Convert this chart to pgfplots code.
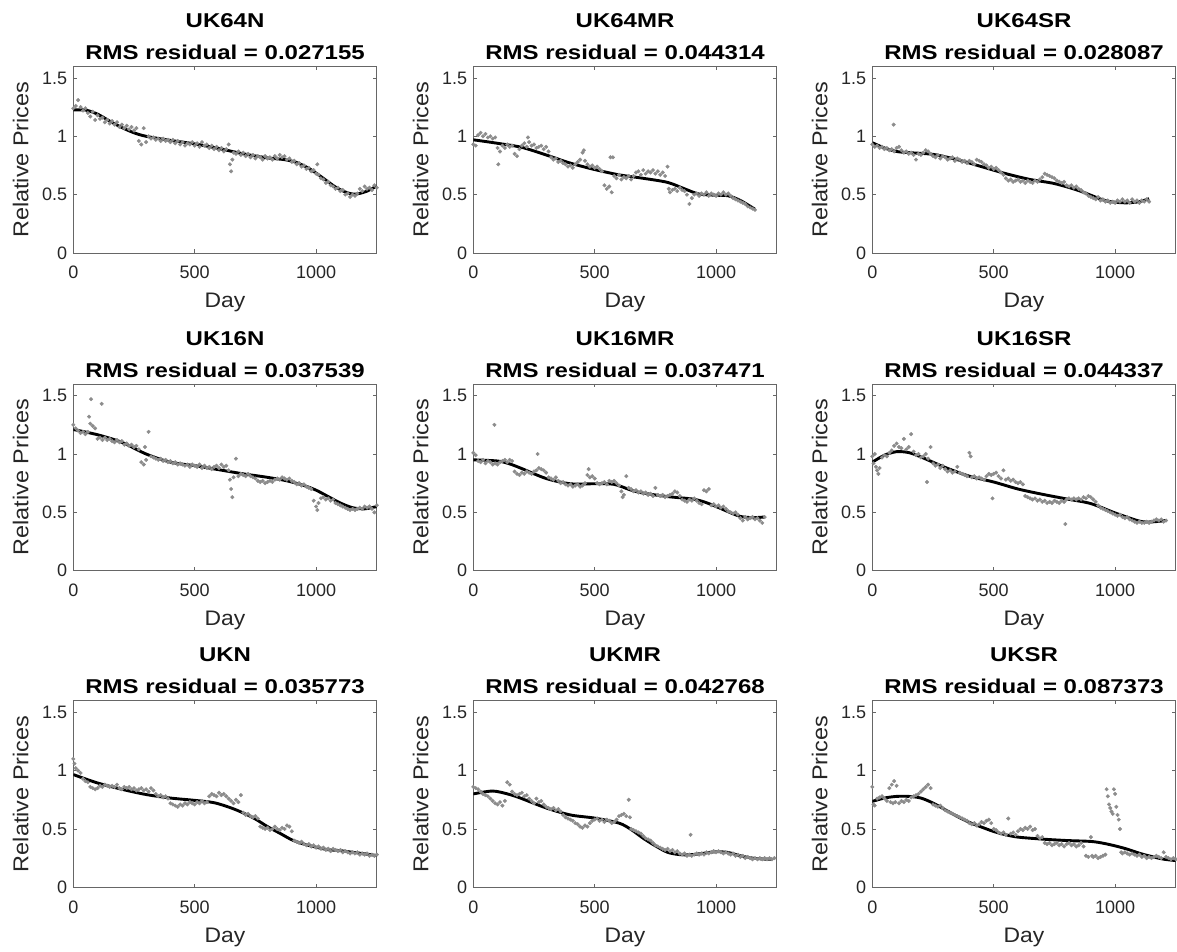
\documentclass[border=0pt]{standalone}
\usepackage{fontspec}
\setmainfont{Liberation Sans}
\newfontfamily\labelfont{Liberation Sans}[FakeStretch=1.09]
\newfontfamily\titlefont{Liberation Sans}[FakeStretch=1.2]
\usepackage{pgfplots}
\pgfplotsset{compat=1.18}

\definecolor{axgray}{gray}{0.40}
\definecolor{txtgray}{gray}{0.15}
\definecolor{ptgray}{gray}{0.55}

\pgfplotsset{
  panel/.style={
    scale only axis, width=303.5pt, height=186.7pt, anchor=south west,
    xmin=0, xmax=1250, ymin=0, ymax=1.6,
    xtick={0,500,1000}, ytick={0,0.5,1,1.5},
    tick align=inside, tick pos=both, major tick length=3.5pt,
    axis line style={draw=axgray, line width=0.7pt},
    every tick/.style={draw=axgray, line width=0.7pt},
    /pgf/number format/assume math mode=true,
    /pgf/number format/1000 sep={},
    tick label style={font=\fontsize{18}{20}\selectfont, text=txtgray},
    xticklabel style={anchor=base, yshift=-26pt},
    yticklabel style={anchor=east, inner sep=0pt, xshift=-6pt},
    xlabel=Day, ylabel=Relative Prices,
    every axis x label/.style={at={(axis description cs:0.5,-0.2946)}, anchor=base,
      font=\labelfont\fontsize{21}{24}\selectfont, text=txtgray},
    every axis y label/.style={at={(axis description cs:-0.148,0.5)}, rotate=90, anchor=base,
      font=\labelfont\fontsize{21.5}{24}\selectfont, text=txtgray},
    every axis title/.style={at={(axis description cs:0.5,1)}, anchor=south, inner sep=0pt,
      yshift=6.5pt, align=center, font=\titlefont\bfseries\fontsize{20}{32}\selectfont},
  },
  pts/.style={only marks, mark=*, mark size=1.8pt, color=ptgray, mark options={draw=none, fill=ptgray}},
  fit/.style={no marks, smooth, black, line width=2.9pt},
}

\begin{document}
\begin{tikzpicture}
\path[use as bounding box] (0,0) rectangle (1177pt,952pt);

% ---------------- row 1 ----------------
\begin{axis}[panel, at={(73.3pt,699pt)}, title={UK64N\\RMS residual = 0.027155}]
\addplot[pts] coordinates {(0,1.24)(10,1.26)(20,1.31)(30,1.25)(40,1.22)(50,1.24)(60,1.20)(70,1.17)(80,1.21)(90,1.14)(100,1.18)(110,1.15)(120,1.16)(130,1.12)(140,1.14)(150,1.11)(160,1.13)(170,1.10)(180,1.12)(190,1.08)(200,1.10)(210,1.07)(220,1.09)(230,1.06)(240,1.08)(250,1.05)(260,1.07)(270,0.96)(280,0.93)(290,1.07)(300,0.95)(310,1.00)(320,0.98)(330,0.99)(340,0.97)(350,0.98)(360,0.96)(370,0.98)(380,0.96)(390,0.97)(400,0.95)(410,0.97)(420,0.94)(430,0.96)(440,0.93)(450,0.95)(460,0.92)(470,0.94)(480,0.93)(490,0.95)(500,0.92)(510,0.94)(520,0.91)(530,0.95)(540,0.92)(550,0.93)(560,0.90)(570,0.92)(580,0.89)(590,0.91)(600,0.88)(610,0.90)(620,0.87)(630,0.89)(640,0.93)(645,0.76)(650,0.70)(655,0.80)(660,0.86)(670,0.85)(680,0.87)(690,0.84)(700,0.86)(710,0.83)(720,0.85)(730,0.82)(740,0.84)(750,0.81)(760,0.83)(770,0.82)(780,0.80)(790,0.83)(800,0.81)(810,0.82)(820,0.80)(830,0.83)(840,0.81)(850,0.84)(860,0.82)(870,0.83)(880,0.80)(890,0.81)(900,0.78)(910,0.79)(920,0.76)(930,0.77)(940,0.74)(950,0.75)(960,0.72)(970,0.73)(980,0.70)(990,0.71)(1000,0.68)(1005,0.76)(1010,0.67)(1020,0.64)(1030,0.63)(1040,0.60)(1050,0.61)(1060,0.58)(1070,0.57)(1080,0.55)(1090,0.56)(1100,0.53)(1110,0.54)(1120,0.50)(1130,0.51)(1140,0.48)(1150,0.50)(1160,0.49)(1170,0.51)(1180,0.55)(1190,0.53)(1200,0.57)(1210,0.55)(1220,0.56)(1230,0.54)(1240,0.58)(1250,0.56)};
\addplot[fit] coordinates {(0,1.225)(50,1.225)(100,1.19)(150,1.13)(200,1.075)(250,1.03)(300,1.0)(400,0.965)(500,0.935)(600,0.895)(700,0.85)(800,0.815)(870,0.80)(920,0.775)(970,0.725)(1020,0.655)(1080,0.565)(1130,0.515)(1165,0.505)(1210,0.53)(1250,0.575)};
\end{axis}

\begin{axis}[panel, at={(473.3pt,699pt)}, title={UK64MR\\RMS residual = 0.044314}]
\addplot[pts] coordinates {(0,0.93)(10,0.92)(20,1.01)(30,1.03)(40,1.00)(50,1.02)(60,0.99)(70,1.00)(80,0.98)(90,0.99)(100,0.90)(103,0.76)(110,0.87)(120,0.92)(130,0.90)(140,0.93)(150,0.91)(160,0.92)(170,0.85)(180,0.83)(190,0.89)(200,0.92)(210,0.94)(220,0.91)(225,0.99)(230,0.95)(240,0.92)(250,0.93)(260,0.90)(270,0.91)(280,0.92)(290,0.89)(300,0.91)(310,0.87)(320,0.82)(330,0.80)(340,0.81)(350,0.78)(360,0.79)(370,0.77)(380,0.76)(390,0.74)(400,0.75)(410,0.73)(420,0.76)(430,0.78)(440,0.80)(450,0.86)(455,0.88)(460,0.79)(470,0.76)(480,0.74)(490,0.75)(500,0.73)(510,0.74)(520,0.72)(530,0.70)(540,0.58)(550,0.55)(560,0.57)(565,0.82)(570,0.52)(575,0.82)(580,0.66)(590,0.64)(600,0.67)(610,0.63)(620,0.65)(630,0.64)(640,0.66)(650,0.63)(660,0.66)(670,0.69)(680,0.70)(690,0.67)(700,0.71)(710,0.68)(720,0.70)(730,0.69)(740,0.71)(750,0.68)(760,0.70)(770,0.67)(780,0.69)(790,0.66)(800,0.74)(805,0.55)(810,0.52)(820,0.54)(830,0.55)(840,0.53)(850,0.56)(860,0.54)(870,0.53)(880,0.50)(890,0.42)(900,0.47)(910,0.50)(920,0.51)(930,0.49)(940,0.51)(950,0.50)(960,0.52)(970,0.49)(980,0.51)(990,0.50)(1000,0.49)(1010,0.51)(1020,0.50)(1030,0.52)(1040,0.50)(1050,0.51)(1060,0.49)(1070,0.47)(1080,0.46)(1090,0.45)(1100,0.44)(1110,0.43)(1120,0.42)(1130,0.40)(1140,0.39)(1150,0.38)(1160,0.37)};
\addplot[fit] coordinates {(0,0.97)(100,0.94)(200,0.905)(300,0.84)(400,0.77)(500,0.715)(600,0.67)(700,0.64)(800,0.605)(870,0.55)(930,0.505)(1000,0.495)(1050,0.49)(1100,0.45)(1160,0.375)};
\end{axis}

\begin{axis}[panel, at={(872.3pt,699pt)}, title={UK64SR\\RMS residual = 0.028087}]
\addplot[pts] coordinates {(0,0.93)(10,0.91)(20,0.92)(30,0.90)(40,0.91)(50,0.89)(60,0.90)(70,0.88)(80,0.89)(88,1.10)(90,0.87)(100,0.90)(110,0.91)(120,0.88)(130,0.86)(140,0.87)(150,0.85)(160,0.86)(170,0.84)(180,0.80)(190,0.85)(200,0.84)(210,0.86)(220,0.88)(230,0.87)(240,0.85)(250,0.83)(260,0.82)(270,0.84)(280,0.81)(290,0.83)(300,0.82)(310,0.80)(320,0.81)(330,0.82)(340,0.79)(350,0.81)(360,0.80)(370,0.78)(380,0.79)(390,0.77)(400,0.79)(410,0.78)(420,0.76)(430,0.80)(440,0.79)(450,0.78)(460,0.76)(470,0.75)(480,0.73)(490,0.74)(500,0.72)(510,0.73)(520,0.71)(530,0.69)(540,0.67)(550,0.64)(560,0.62)(570,0.63)(580,0.61)(590,0.62)(600,0.63)(610,0.61)(620,0.62)(630,0.60)(640,0.62)(650,0.61)(660,0.60)(670,0.62)(680,0.61)(690,0.63)(700,0.65)(710,0.68)(720,0.67)(730,0.66)(740,0.65)(750,0.64)(760,0.62)(770,0.61)(780,0.60)(790,0.61)(800,0.58)(810,0.57)(820,0.58)(830,0.56)(840,0.57)(850,0.55)(860,0.54)(870,0.52)(880,0.51)(890,0.49)(900,0.48)(910,0.47)(920,0.46)(930,0.48)(940,0.45)(950,0.46)(960,0.44)(970,0.45)(980,0.43)(990,0.44)(1000,0.43)(1010,0.45)(1020,0.44)(1030,0.46)(1040,0.44)(1050,0.45)(1060,0.43)(1070,0.46)(1080,0.44)(1090,0.45)(1100,0.43)(1110,0.45)(1120,0.44)(1130,0.46)(1140,0.44)};
\addplot[fit] coordinates {(0,0.945)(50,0.90)(100,0.87)(150,0.86)(250,0.845)(350,0.80)(450,0.74)(550,0.68)(650,0.63)(750,0.595)(850,0.535)(950,0.455)(1000,0.435)(1050,0.43)(1100,0.44)(1140,0.465)};
\end{axis}

% ---------------- row 2 ----------------
\begin{axis}[panel, at={(73.3pt,381.3pt)}, title={UK16N\\RMS residual = 0.037539}]
\addplot[pts] coordinates {(0,1.25)(10,1.22)(20,1.20)(30,1.18)(40,1.19)(50,1.17)(60,1.19)(65,1.32)(70,1.26)(73,1.47)(80,1.24)(90,1.22)(100,1.13)(110,1.14)(117,1.43)(120,1.12)(130,1.14)(140,1.12)(150,1.13)(160,1.11)(170,1.10)(180,1.12)(190,1.10)(200,1.11)(210,1.08)(220,1.09)(230,1.07)(240,1.08)(250,1.06)(260,1.07)(270,1.04)(280,0.93)(290,0.91)(295,1.06)(300,0.95)(310,1.19)(320,0.98)(330,0.97)(340,0.96)(350,0.95)(360,0.96)(370,0.94)(380,0.95)(390,0.93)(400,0.94)(410,0.92)(420,0.93)(430,0.91)(440,0.92)(450,0.91)(460,0.90)(470,0.91)(480,0.89)(490,0.91)(500,0.90)(510,0.89)(520,0.91)(530,0.88)(540,0.90)(550,0.88)(560,0.89)(570,0.87)(580,0.89)(590,0.90)(600,0.88)(610,0.91)(620,0.89)(630,0.90)(640,0.86)(645,0.78)(650,0.70)(655,0.63)(660,0.80)(670,0.96)(680,0.81)(690,0.83)(700,0.82)(710,0.81)(720,0.83)(730,0.81)(740,0.80)(750,0.79)(760,0.77)(770,0.76)(780,0.77)(790,0.75)(800,0.76)(810,0.77)(820,0.76)(830,0.78)(840,0.79)(850,0.78)(860,0.80)(870,0.79)(880,0.78)(890,0.79)(900,0.77)(910,0.76)(920,0.74)(930,0.75)(940,0.73)(950,0.74)(960,0.72)(970,0.71)(980,0.70)(990,0.60)(1000,0.55)(1005,0.52)(1010,0.58)(1020,0.62)(1030,0.63)(1040,0.61)(1050,0.62)(1060,0.60)(1070,0.61)(1080,0.58)(1090,0.57)(1100,0.56)(1110,0.55)(1120,0.54)(1130,0.53)(1140,0.52)(1150,0.53)(1160,0.52)(1170,0.53)(1180,0.54)(1190,0.53)(1200,0.55)(1210,0.54)(1220,0.55)(1230,0.53)(1240,0.50)(1250,0.56)};
\addplot[fit] coordinates {(0,1.21)(100,1.165)(200,1.10)(300,1.0)(400,0.93)(500,0.90)(600,0.865)(700,0.83)(800,0.80)(880,0.77)(950,0.73)(1000,0.69)(1050,0.635)(1100,0.58)(1150,0.54)(1200,0.53)(1250,0.55)};
\end{axis}

\begin{axis}[panel, at={(473.3pt,381.3pt)}, title={UK16MR\\RMS residual = 0.037471}]
\addplot[pts] coordinates {(0,1.01)(10,0.99)(20,0.94)(30,0.93)(40,0.95)(50,0.92)(60,0.94)(70,0.93)(80,0.91)(87,1.25)(90,0.92)(100,0.91)(110,0.93)(120,0.94)(130,0.95)(140,0.93)(150,0.95)(160,0.94)(170,0.85)(180,0.83)(190,0.82)(200,0.84)(210,0.83)(220,0.85)(230,0.84)(240,0.83)(250,0.85)(260,0.86)(265,1.00)(270,0.88)(280,0.87)(290,0.86)(300,0.84)(310,0.80)(320,0.79)(330,0.78)(340,0.80)(350,0.77)(360,0.75)(370,0.76)(380,0.74)(390,0.73)(400,0.74)(410,0.72)(420,0.73)(430,0.74)(440,0.72)(450,0.73)(460,0.75)(470,0.82)(475,0.87)(480,0.80)(490,0.81)(500,0.79)(510,0.75)(520,0.74)(530,0.75)(540,0.76)(550,0.74)(560,0.77)(570,0.76)(580,0.77)(590,0.75)(600,0.73)(610,0.68)(615,0.63)(620,0.65)(630,0.81)(640,0.71)(650,0.70)(660,0.68)(670,0.69)(680,0.67)(690,0.68)(700,0.66)(710,0.67)(720,0.65)(730,0.66)(740,0.64)(750,0.71)(760,0.65)(770,0.64)(780,0.65)(790,0.63)(800,0.64)(810,0.65)(820,0.66)(830,0.68)(840,0.67)(850,0.64)(860,0.61)(870,0.60)(880,0.59)(890,0.61)(900,0.60)(910,0.62)(920,0.60)(930,0.58)(940,0.57)(950,0.69)(960,0.68)(970,0.70)(980,0.56)(990,0.57)(1000,0.55)(1010,0.56)(1020,0.54)(1030,0.55)(1040,0.53)(1050,0.51)(1060,0.50)(1070,0.49)(1080,0.50)(1090,0.48)(1100,0.45)(1110,0.43)(1120,0.46)(1130,0.44)(1140,0.45)(1150,0.46)(1160,0.44)(1170,0.45)(1180,0.43)(1190,0.41)(1200,0.46)};
\addplot[fit] coordinates {(0,0.95)(100,0.94)(150,0.915)(200,0.875)(300,0.79)(400,0.745)(500,0.745)(580,0.74)(650,0.69)(700,0.665)(800,0.635)(900,0.615)(950,0.59)(1000,0.55)(1050,0.505)(1100,0.465)(1150,0.455)(1200,0.46)};
\end{axis}

\begin{axis}[panel, at={(872.3pt,381.3pt)}, title={UK16SR\\RMS residual = 0.044337}]
\addplot[pts] coordinates {(0,0.98)(5,0.92)(10,1.00)(15,0.89)(20,0.86)(25,0.83)(30,0.88)(40,0.97)(50,0.99)(60,0.98)(70,1.01)(80,1.03)(90,1.07)(100,1.09)(110,1.06)(120,1.05)(130,1.13)(140,1.04)(150,1.06)(160,1.17)(170,1.02)(180,0.99)(190,1.00)(200,0.97)(210,0.98)(220,1.00)(225,0.76)(230,0.96)(240,1.06)(250,0.92)(260,0.90)(270,0.91)(280,0.88)(290,0.90)(300,0.87)(310,0.85)(320,0.86)(330,0.84)(340,0.85)(350,0.89)(360,0.84)(370,0.83)(380,0.82)(390,0.81)(400,1.01)(405,0.98)(410,0.80)(420,0.81)(430,0.79)(440,0.80)(450,0.79)(460,0.78)(470,0.81)(480,0.83)(490,0.82)(495,0.62)(500,0.83)(510,0.84)(520,0.81)(530,0.79)(540,0.86)(550,0.78)(560,0.79)(570,0.77)(580,0.78)(590,0.76)(600,0.75)(610,0.76)(620,0.74)(630,0.64)(640,0.63)(650,0.62)(660,0.61)(670,0.62)(680,0.60)(690,0.61)(700,0.59)(710,0.60)(720,0.58)(730,0.59)(740,0.58)(750,0.60)(760,0.59)(770,0.58)(780,0.60)(790,0.59)(795,0.40)(800,0.61)(810,0.62)(820,0.61)(830,0.62)(840,0.61)(850,0.62)(860,0.61)(870,0.63)(880,0.62)(890,0.64)(900,0.63)(910,0.61)(920,0.59)(930,0.56)(940,0.54)(950,0.53)(960,0.52)(970,0.51)(980,0.50)(990,0.49)(1000,0.48)(1010,0.47)(1020,0.48)(1030,0.46)(1040,0.45)(1050,0.46)(1060,0.44)(1070,0.43)(1080,0.42)(1090,0.41)(1100,0.42)(1110,0.41)(1120,0.41)(1130,0.42)(1140,0.41)(1150,0.42)(1160,0.43)(1170,0.44)(1180,0.43)(1190,0.44)(1200,0.42)(1210,0.43)};
\addplot[fit] coordinates {(0,0.93)(50,0.99)(100,1.02)(150,1.012)(200,0.975)(300,0.885)(400,0.81)(500,0.76)(600,0.70)(700,0.655)(800,0.615)(900,0.575)(1000,0.495)(1100,0.425)(1150,0.418)(1210,0.43)};
\end{axis}

% ---------------- row 3 ----------------
\begin{axis}[panel, at={(73.3pt,64.7pt)}, title={UKN\\RMS residual = 0.035773}]
\addplot[pts] coordinates {(0,1.10)(5,1.06)(10,1.02)(20,1.00)(30,0.98)(40,0.93)(50,0.91)(60,0.90)(70,0.86)(80,0.85)(90,0.84)(100,0.85)(110,0.87)(120,0.86)(130,0.88)(140,0.87)(150,0.86)(160,0.87)(170,0.86)(180,0.88)(190,0.85)(200,0.84)(210,0.86)(220,0.85)(230,0.86)(240,0.84)(250,0.85)(260,0.83)(270,0.84)(280,0.85)(290,0.83)(300,0.84)(310,0.82)(320,0.85)(330,0.83)(340,0.80)(350,0.78)(360,0.79)(370,0.77)(380,0.78)(390,0.76)(400,0.72)(410,0.71)(420,0.70)(430,0.69)(440,0.71)(450,0.70)(460,0.72)(470,0.71)(480,0.73)(490,0.72)(500,0.71)(510,0.73)(520,0.72)(530,0.74)(540,0.72)(550,0.73)(560,0.78)(570,0.80)(580,0.79)(590,0.78)(600,0.81)(610,0.79)(620,0.80)(630,0.78)(640,0.76)(650,0.74)(660,0.72)(670,0.75)(680,0.73)(690,0.79)(700,0.64)(710,0.62)(720,0.63)(730,0.61)(740,0.60)(750,0.61)(760,0.59)(770,0.52)(780,0.51)(790,0.50)(800,0.51)(810,0.49)(820,0.50)(830,0.52)(840,0.50)(850,0.49)(860,0.51)(870,0.50)(880,0.53)(890,0.52)(900,0.48)(910,0.40)(920,0.39)(930,0.38)(940,0.39)(950,0.37)(960,0.36)(970,0.37)(980,0.35)(990,0.36)(1000,0.34)(1010,0.35)(1020,0.33)(1030,0.34)(1040,0.32)(1050,0.33)(1060,0.31)(1070,0.33)(1080,0.32)(1090,0.31)(1100,0.32)(1110,0.30)(1120,0.31)(1130,0.30)(1140,0.29)(1150,0.30)(1160,0.29)(1170,0.30)(1180,0.28)(1190,0.29)(1200,0.28)(1210,0.29)(1220,0.27)(1230,0.28)(1240,0.27)(1250,0.28)};
\addplot[fit] coordinates {(0,0.966)(100,0.894)(200,0.84)(300,0.795)(400,0.765)(500,0.745)(580,0.725)(650,0.68)(700,0.637)(750,0.585)(800,0.52)(850,0.464)(900,0.407)(950,0.37)(1000,0.344)(1050,0.322)(1100,0.314)(1150,0.30)(1200,0.287)(1250,0.272)};
\end{axis}

\begin{axis}[panel, at={(473.3pt,64.7pt)}, title={UKMR\\RMS residual = 0.042768}]
\addplot[pts] coordinates {(0,0.86)(10,0.85)(20,0.84)(30,0.82)(40,0.80)(50,0.79)(60,0.78)(70,0.76)(80,0.74)(90,0.72)(100,0.71)(110,0.73)(120,0.70)(130,0.74)(140,0.90)(150,0.88)(160,0.82)(170,0.80)(180,0.79)(190,0.80)(200,0.81)(210,0.78)(220,0.79)(230,0.76)(240,0.74)(250,0.72)(260,0.76)(270,0.73)(280,0.74)(290,0.71)(300,0.69)(310,0.68)(320,0.67)(330,0.68)(340,0.66)(350,0.67)(360,0.65)(370,0.62)(380,0.60)(390,0.59)(400,0.58)(410,0.57)(420,0.55)(430,0.54)(440,0.52)(450,0.51)(460,0.53)(470,0.52)(480,0.55)(490,0.57)(500,0.58)(510,0.59)(520,0.57)(530,0.58)(540,0.56)(550,0.58)(560,0.57)(570,0.55)(580,0.56)(590,0.58)(600,0.61)(610,0.62)(620,0.63)(630,0.61)(640,0.75)(645,0.60)(650,0.50)(660,0.49)(670,0.48)(680,0.47)(690,0.46)(700,0.44)(710,0.42)(720,0.41)(730,0.40)(740,0.38)(750,0.36)(760,0.35)(770,0.34)(780,0.33)(790,0.32)(800,0.33)(810,0.31)(820,0.32)(830,0.30)(840,0.31)(850,0.29)(860,0.28)(870,0.29)(880,0.27)(890,0.28)(895,0.45)(900,0.27)(910,0.28)(920,0.29)(930,0.28)(940,0.29)(950,0.28)(960,0.30)(970,0.29)(980,0.30)(990,0.31)(1000,0.30)(1010,0.31)(1020,0.30)(1030,0.29)(1040,0.30)(1050,0.29)(1060,0.28)(1070,0.29)(1080,0.27)(1090,0.28)(1100,0.26)(1110,0.27)(1120,0.25)(1130,0.26)(1140,0.25)(1150,0.24)(1160,0.25)(1170,0.24)(1180,0.25)(1190,0.24)(1200,0.25)(1210,0.24)(1220,0.25)(1230,0.24)(1240,0.25)};
\addplot[fit] coordinates {(0,0.80)(80,0.825)(150,0.795)(200,0.76)(300,0.68)(400,0.62)(500,0.593)(600,0.55)(650,0.495)(700,0.42)(750,0.355)(800,0.30)(850,0.28)(900,0.28)(950,0.292)(1000,0.305)(1050,0.298)(1100,0.27)(1150,0.25)(1200,0.242)(1230,0.242)};
\end{axis}

\begin{axis}[panel, at={(872.3pt,64.7pt)}, title={UKSR\\RMS residual = 0.087373}]
\addplot[pts] coordinates {(0,0.86)(5,0.71)(10,0.70)(20,0.76)(30,0.77)(40,0.78)(50,0.76)(60,0.74)(70,0.85)(75,0.73)(80,0.88)(85,0.72)(90,0.91)(95,0.73)(100,0.87)(110,0.72)(120,0.74)(130,0.73)(140,0.75)(150,0.74)(160,0.77)(170,0.78)(180,0.79)(190,0.80)(200,0.82)(210,0.84)(220,0.86)(230,0.88)(240,0.85)(250,0.71)(260,0.70)(270,0.69)(280,0.70)(290,0.68)(300,0.66)(310,0.65)(320,0.64)(330,0.63)(340,0.62)(350,0.61)(360,0.60)(370,0.59)(380,0.58)(390,0.57)(400,0.55)(410,0.54)(420,0.55)(430,0.53)(440,0.54)(450,0.56)(460,0.55)(470,0.57)(480,0.58)(490,0.55)(500,0.50)(510,0.49)(520,0.47)(530,0.46)(540,0.47)(550,0.45)(560,0.59)(570,0.46)(580,0.47)(590,0.45)(600,0.48)(610,0.50)(620,0.49)(630,0.51)(640,0.50)(650,0.52)(660,0.49)(670,0.50)(680,0.44)(690,0.42)(700,0.43)(710,0.38)(720,0.37)(730,0.38)(740,0.36)(750,0.37)(760,0.38)(770,0.36)(780,0.37)(790,0.35)(800,0.37)(810,0.38)(820,0.36)(830,0.37)(840,0.35)(850,0.36)(860,0.38)(870,0.35)(880,0.27)(890,0.26)(900,0.43)(905,0.27)(910,0.26)(920,0.27)(930,0.25)(940,0.26)(950,0.27)(960,0.28)(965,0.84)(970,0.78)(975,0.71)(980,0.68)(985,0.65)(990,0.63)(995,0.84)(1000,0.80)(1005,0.69)(1010,0.62)(1015,0.58)(1020,0.50)(1025,0.30)(1030,0.29)(1040,0.30)(1050,0.29)(1060,0.28)(1070,0.29)(1080,0.28)(1090,0.27)(1100,0.28)(1110,0.26)(1120,0.27)(1130,0.25)(1140,0.26)(1150,0.25)(1160,0.26)(1170,0.27)(1180,0.26)(1190,0.25)(1200,0.30)(1210,0.26)(1220,0.25)(1230,0.24)(1240,0.25)(1250,0.24)};
\addplot[fit] coordinates {(0,0.736)(50,0.765)(100,0.779)(150,0.779)(200,0.765)(250,0.722)(300,0.665)(350,0.607)(400,0.556)(450,0.516)(500,0.478)(550,0.45)(600,0.43)(700,0.413)(800,0.401)(900,0.393)(950,0.378)(1000,0.355)(1050,0.327)(1100,0.292)(1150,0.264)(1200,0.241)(1250,0.229)};
\end{axis}
\end{tikzpicture}
\end{document}
